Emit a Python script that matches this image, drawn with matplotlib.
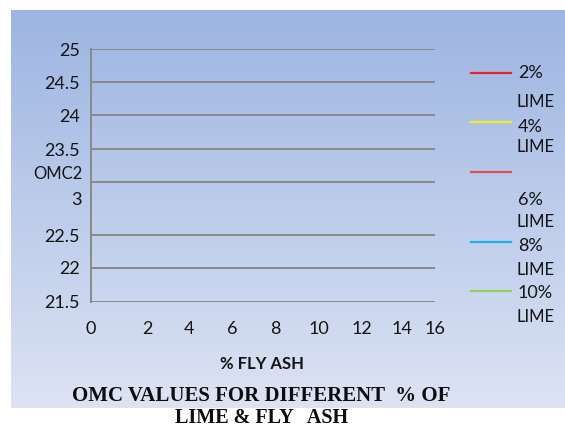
import numpy as np
import matplotlib
matplotlib.use("Agg")
import matplotlib.pyplot as plt
from matplotlib.lines import Line2D

# Chart data
fly_ash_pct = [0, 2, 4, 6, 8, 10, 12, 14, 16]
omc_ticks = [21.5, 22, 22.5, 23, 23.5, 24, 24.5, 25]
omc_tick_labels = ["21.5", "22", "22.5", "", "23.5", "24", "24.5", "25"]
lime_series = ["2%", "4%", "6%", "8%", "10%"]
lime_colors = ["#e8232b", "#eeee2a", "#d9544f", "#16b0ee", "#92cf5a"]

# Axis layout (pixel offsets of each tick along the axis)
x_tick_px = [0, 56, 98, 141, 184, 228, 271, 311, 344]
y_tick_px = [0, 34, 67, 120, 153, 187, 220, 253]

W, H = 565, 429
fig = plt.figure(figsize=(W / 100, H / 100), dpi=100)
fig.patch.set_facecolor("white")

TXT = "#141414"
GRID = "#898989"
SANS = ["Lato", "DejaVu Sans"]
SERIF = ["Liberation Serif", "DejaVu Serif"]


def fx(x):
    return x / W


def fy(y):
    return 1 - y / H


# Gradient panel behind the chart
bg = fig.add_axes([fx(11), fy(408), (W - 11) / W, (408 - 10) / H], zorder=0)
top = np.array([157, 181, 226]) / 255
bot = np.array([220, 227, 243]) / 255
t = np.linspace(0, 1, 256)[:, None, None]
grad = top * (1 - t) + bot * t
grad = np.repeat(grad, 2, axis=1)
bg.imshow(grad, aspect="auto", extent=[0, 1, 0, 1], interpolation="bilinear")
bg.set_xlim(0, 1)
bg.set_ylim(0, 1)
bg.axis("off")

# Plot area
ax = fig.add_axes([fx(91), fy(302), 344 / W, 253 / H], zorder=1)
ax.patch.set_alpha(0)

ax.set_xscale("function", functions=(
    lambda v: np.interp(v, fly_ash_pct, x_tick_px),
    lambda p: np.interp(p, x_tick_px, fly_ash_pct)))
ax.set_yscale("function", functions=(
    lambda v: np.interp(v, omc_ticks, y_tick_px),
    lambda p: np.interp(p, y_tick_px, omc_ticks)))
ax.set_xlim(fly_ash_pct[0], fly_ash_pct[-1])
ax.set_ylim(omc_ticks[0], omc_ticks[-1])

# One (empty) line per lime content
for name, col in zip(lime_series, lime_colors):
    ax.plot([], [], color=col, lw=1.5, label=name + " LIME")

ax.set_xticks(fly_ash_pct, labels=[str(v) for v in fly_ash_pct])
ax.set_yticks(omc_ticks, labels=omc_tick_labels)
ax.minorticks_off()
ax.tick_params(axis="both", length=0, labelsize=13, labelcolor=TXT)
ax.tick_params(axis="y", pad=8)
ax.tick_params(axis="x", pad=14)
for lab in ax.get_xticklabels() + ax.get_yticklabels():
    lab.set_family(SANS)

ax.yaxis.grid(True, color=GRID, lw=1.4)
ax.xaxis.grid(False)
for s in ("top", "right", "bottom"):
    ax.spines[s].set_visible(False)
ax.spines["left"].set_color(GRID)
ax.spines["left"].set_linewidth(1.4)

# Axis titles
fig.text(fx(82), fy(174), "OMC2", ha="right", va="center", fontsize=12,
         color=TXT, family=SANS)
fig.text(fx(82), fy(200), "3", ha="right", va="center", fontsize=13,
         color=TXT, family=SANS)
fig.text(fx(262), fy(364), "% FLY ASH", ha="center", va="center", fontsize=12,
         fontweight="bold", color=TXT, family=SANS)

# Legend on the right
leg_line_y = [73, 122, 172, 242, 291]
leg_pct_y = [73, 127, 200, 246, 293]
leg_lime_y = [102, 147, 222, 270, 317]
for name, col, ly, py, my in zip(lime_series, lime_colors, leg_line_y,
                                 leg_pct_y, leg_lime_y):
    fig.add_artist(Line2D([fx(471), fx(511)], [fy(ly), fy(ly)], color=col,
                          lw=1.6, transform=fig.transFigure))
    fig.text(fx(518), fy(py), name, ha="left", va="center", fontsize=13,
             color=TXT, family=SANS)
    fig.text(fx(517), fy(my), "LIME", ha="left", va="center", fontsize=12,
             color=TXT, family=SANS)

# Caption
fig.text(fx(261), fy(396), "OMC VALUES FOR DIFFERENT  % OF", ha="center",
         va="center", fontsize=15, fontweight="bold", color="#0d0d0d",
         family=SERIF)
fig.text(fx(262), fy(418), "LIME & FLY   ASH", ha="center", va="center",
         fontsize=14.5, fontweight="bold", color="#0d0d0d", family=SERIF)

fig.savefig("out.png", dpi=100, facecolor="white")
